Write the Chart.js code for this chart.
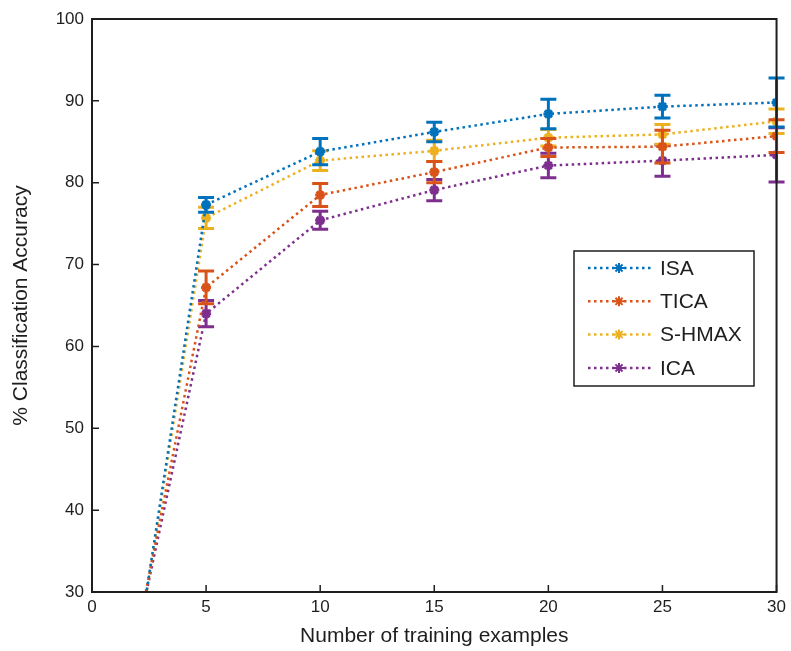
<!DOCTYPE html>
<html>
<head>
<meta charset="utf-8">
<script src="https://cdn.jsdelivr.net/npm/chart.js@4.4.1/dist/chart.umd.min.js"></script>
<style>
  html, body { margin: 0; padding: 0; background: #fff; }
  #wrap { width: 791px; height: 651px; position: relative; }
</style>
</head>
<body>
<div id="wrap"><canvas id="accChart" width="791" height="651"></canvas></div>
<script>
// training set sizes (first point sits below the visible range)
const examples = [2, 5, 10, 15, 20, 25, 30];

const seriesNames = ["ISA", "TICA", "S-HMAX", "ICA"];
const seriesColors = ["#0072BD", "#D95319", "#EDB120", "#7E2F8E"];

const isaAcc   = [23, 77.3, 83.8, 86.2, 88.4, 89.3, 89.8];
const ticaAcc  = [25, 67.2, 78.5, 81.3, 84.3, 84.4, 85.7];
const shmaxAcc = [23, 75.7, 82.7, 83.9, 85.5, 85.9, 87.5];
const icaAcc   = [25, 64.0, 75.4, 79.1, 82.1, 82.7, 83.4];

// +/- std for each point
const isaErr   = [0, 0.9, 1.6, 1.2, 1.8, 1.4, 3.0];
const ticaErr  = [0, 2.0, 1.4, 1.3, 1.1, 2.0, 2.0];
const shmaxErr = [0, 1.3, 1.2, 1.3, 1.0, 1.2, 1.5];
const icaErr   = [0, 1.6, 1.1, 1.3, 1.5, 1.9, 3.3];

const yTicks = [30, 40, 50, 60, 70, 80, 90, 100];
const xTicks = [0, 5, 10, 15, 20, 25, 30];

const allAcc = [isaAcc, ticaAcc, shmaxAcc, icaAcc];
const allErr = [isaErr, ticaErr, shmaxErr, icaErr];

const FONT = "'Liberation Sans', Arial, sans-serif";
const INK = "#1e1e1e";

const datasets = seriesNames.map((name, i) => ({
  label: name,
  data: examples.map((x, j) => ({ x: x, y: allAcc[i][j] })),
  errors: allErr[i],
  borderColor: seriesColors[i],
  backgroundColor: seriesColors[i],
  borderWidth: 2.5,
  borderDash: [2.5, 3.5],
  pointStyle: "star",
  pointRadius: 5,
  pointBorderWidth: 3,
  tension: 0,
}));

// vertical error bars with caps, drawn right after each series
const errorBars = {
  id: "errorBars",
  afterDatasetDraw(chart, args) {
    const ds = chart.data.datasets[args.index];
    const xs = chart.scales.x, ys = chart.scales.y, area = chart.chartArea;
    const ctx = chart.ctx;
    ctx.save();
    ctx.beginPath();
    ctx.rect(area.left - 10, area.top, area.right - area.left + 20, area.bottom - area.top);
    ctx.clip();
    ctx.strokeStyle = ds.borderColor;
    ctx.lineWidth = 3;
    ds.data.forEach((p, j) => {
      const e = ds.errors[j];
      if (!e) return;
      const px = xs.getPixelForValue(p.x);
      const top = ys.getPixelForValue(p.y + e);
      const bot = ys.getPixelForValue(p.y - e);
      ctx.beginPath();
      ctx.moveTo(px, top); ctx.lineTo(px, bot);
      ctx.moveTo(px - 8, top); ctx.lineTo(px + 8, top);
      ctx.moveTo(px - 8, bot); ctx.lineTo(px + 8, bot);
      ctx.stroke();
    });
    ctx.restore();
  }
};

// box around the axes, inward ticks, and the legend inside the plot
const frame = {
  id: "frame",
  afterDraw(chart) {
    const { ctx, chartArea: a, scales } = chart;
    ctx.save();
    ctx.strokeStyle = INK;
    ctx.lineWidth = 2;
    ctx.strokeRect(a.left, a.top, a.right - a.left, a.bottom - a.top);
    ctx.lineWidth = 1.5;
    ctx.beginPath();
    yTicks.forEach(v => {
      const py = scales.y.getPixelForValue(v);
      ctx.moveTo(a.left, py); ctx.lineTo(a.left + 7, py);
    });
    xTicks.forEach(v => {
      const px = scales.x.getPixelForValue(v);
      ctx.moveTo(px, a.bottom); ctx.lineTo(px, a.bottom - 7);
    });
    ctx.stroke();

    // legend
    const lx = 574, ly = 251, lw = 180, lh = 135;
    ctx.fillStyle = "#fff";
    ctx.fillRect(lx, ly, lw, lh);
    ctx.strokeStyle = INK;
    ctx.lineWidth = 1.5;
    ctx.strokeRect(lx, ly, lw, lh);
    ctx.font = "21px " + FONT;
    ctx.textBaseline = "middle";
    chart.data.datasets.forEach((ds, i) => {
      const ry = 268 + i * 33.3;
      ctx.strokeStyle = ds.borderColor;
      ctx.lineWidth = 2.5;
      ctx.setLineDash([2.5, 3.5]);
      ctx.beginPath();
      ctx.moveTo(588, ry); ctx.lineTo(651, ry);
      ctx.stroke();
      ctx.setLineDash([]);
      ctx.lineWidth = 2;
      ctx.beginPath();
      for (let k = 0; k < 4; k++) {
        const ang = k * Math.PI / 4;
        ctx.moveTo(619 - 5 * Math.cos(ang), ry - 5 * Math.sin(ang));
        ctx.lineTo(619 + 5 * Math.cos(ang), ry + 5 * Math.sin(ang));
      }
      ctx.stroke();
      ctx.fillStyle = INK;
      ctx.fillText(ds.label, 660, ry + 1);
    });
    ctx.restore();
  }
};

new Chart(document.getElementById("accChart"), {
  type: "line",
  data: { datasets: datasets },
  plugins: [errorBars, frame],
  options: {
    responsive: false,
    animation: false,
    layout: { padding: { top: 19, right: 13, left: 0, bottom: 0 } },
    plugins: { legend: { display: false }, tooltip: { enabled: false } },
    scales: {
      x: {
        type: "linear",
        min: 0, max: 30,
        afterBuildTicks: s => { s.ticks = xTicks.map(v => ({ value: v })); },
        afterFit: s => { s.height = 59; },
        grid: { display: false, drawTicks: false },
        border: { display: false },
        ticks: { color: INK, font: { family: FONT, size: 17 }, padding: 5 },
        title: {
          display: true, text: "Number of training examples",
          color: INK, font: { family: FONT, size: 21 }, padding: { top: 0, bottom: 2 }
        }
      },
      y: {
        min: 30, max: 100,
        afterBuildTicks: s => { s.ticks = yTicks.map(v => ({ value: v })); },
        afterFit: s => { s.width = 92; },
        grid: { display: false, drawTicks: false },
        border: { display: false },
        ticks: { color: INK, font: { family: FONT, size: 17 }, padding: 8 },
        title: {
          display: true, text: "% Classification Accuracy",
          color: INK, font: { family: FONT, size: 21 }, padding: { top: 9, bottom: 0 }
        }
      }
    }
  }
});
</script>
</body>
</html>
